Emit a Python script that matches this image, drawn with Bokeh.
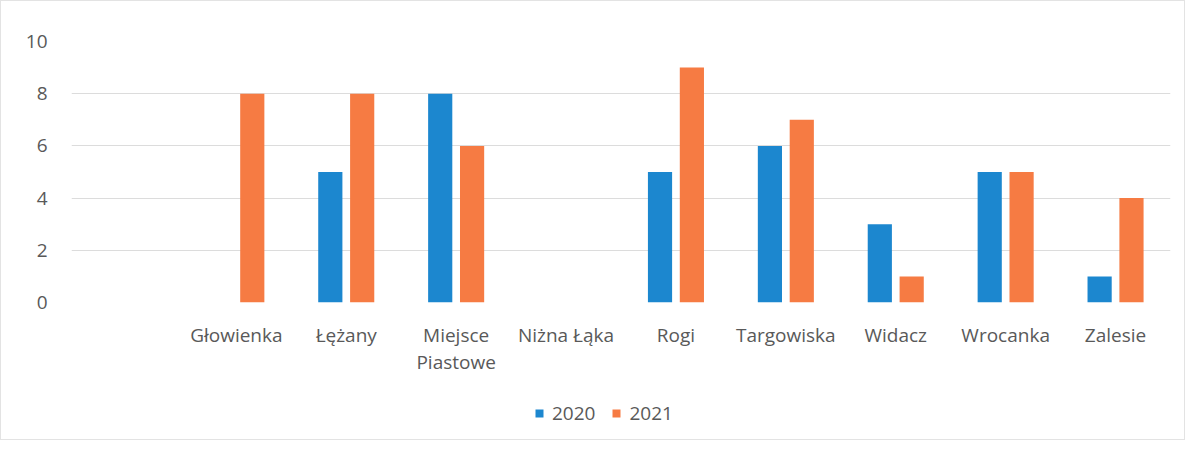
from bokeh.plotting import figure
from bokeh.layouts import column
from bokeh.models import FactorRange, Range1d, Legend, LegendItem, ColumnDataSource, FixedTicker
from bokeh.transform import dodge
from bokeh.embed import file_html
from bokeh.resources import INLINE

categories = [" ", "Głowienka", "Łężany", "Miejsce\nPiastowe", "Niżna Łąka", "Rogi",
              "Targowiska", "Widacz", "Wrocanka", "Zalesie"]
values_2020 = [0, 0, 5, 8, 0, 5, 6, 3, 5, 1]
values_2021 = [0, 8, 8, 6, 0, 9, 7, 1, 5, 4]
series_names = ["2020", "2021"]
y_ticks = [0, 2, 4, 6, 8, 10]

BLUE = "#1C87CF"
ORANGE = "#F67B43"
TXT = "#595959"
FONT = "Open Sans"

src = ColumnDataSource(dict(cat=categories, v2020=values_2020, v2021=values_2021))

p = figure(width=1183, height=385, output_backend="svg", toolbar_location=None,
           x_range=FactorRange(*categories, range_padding=0), y_range=Range1d(0, 10),
           min_border_left=70, min_border_right=14, min_border_top=40, min_border_bottom=84)
p.outline_line_color = None
p.background_fill_color = "white"

r1 = p.vbar(x=dodge("cat", -0.145, range=p.x_range), top="v2020", width=0.22,
            source=src, fill_color=BLUE, line_color=None)
r2 = p.vbar(x=dodge("cat", 0.145, range=p.x_range), top="v2021", width=0.22,
            source=src, fill_color=ORANGE, line_color=None)

p.xgrid.grid_line_color = None
p.ygrid.grid_line_color = "#dcdcdc"
p.ygrid.grid_line_width = 1

p.yaxis.ticker = FixedTicker(ticks=y_ticks)
for ax in (p.xaxis[0], p.yaxis[0]):
    ax.axis_line_color = None
    ax.major_tick_line_color = None
    ax.minor_tick_line_color = None
    ax.major_label_text_color = TXT
    ax.major_label_text_font = FONT
    ax.major_label_text_font_size = "19px"
p.yaxis.major_label_standoff = 18
p.xaxis.major_label_standoff = 13
p.xaxis.major_label_text_line_height = 1.05

# legend strip below the chart (same series, drawn outside the visible range)
pl = figure(width=1183, height=53, output_backend="svg", toolbar_location=None,
            x_range=FactorRange(*categories, range_padding=0), y_range=Range1d(100, 101),
            min_border=0)
pl.axis.visible = False
pl.grid.visible = False
pl.outline_line_color = None
l1 = pl.vbar(x="cat", top="v2020", width=0.22, source=src, fill_color=BLUE, line_color=None)
l2 = pl.vbar(x="cat", top="v2021", width=0.22, source=src, fill_color=ORANGE, line_color=None)
legend = Legend(items=[LegendItem(label=series_names[0], renderers=[l1]),
                       LegendItem(label=series_names[1], renderers=[l2])],
                orientation="horizontal", location=(463, 13),
                label_text_font=FONT, label_text_font_size="19px", label_text_color=TXT,
                glyph_width=10, glyph_height=10, spacing=16, label_standoff=8,
                padding=6, margin=0,
                border_line_color=None, background_fill_alpha=0)
pl.add_layout(legend, "center")

lay = column(p, pl, spacing=0)
lay.styles = {"border": "1px solid #e3e3e3"}

open("out.html", "w").write(file_html(lay, INLINE))
